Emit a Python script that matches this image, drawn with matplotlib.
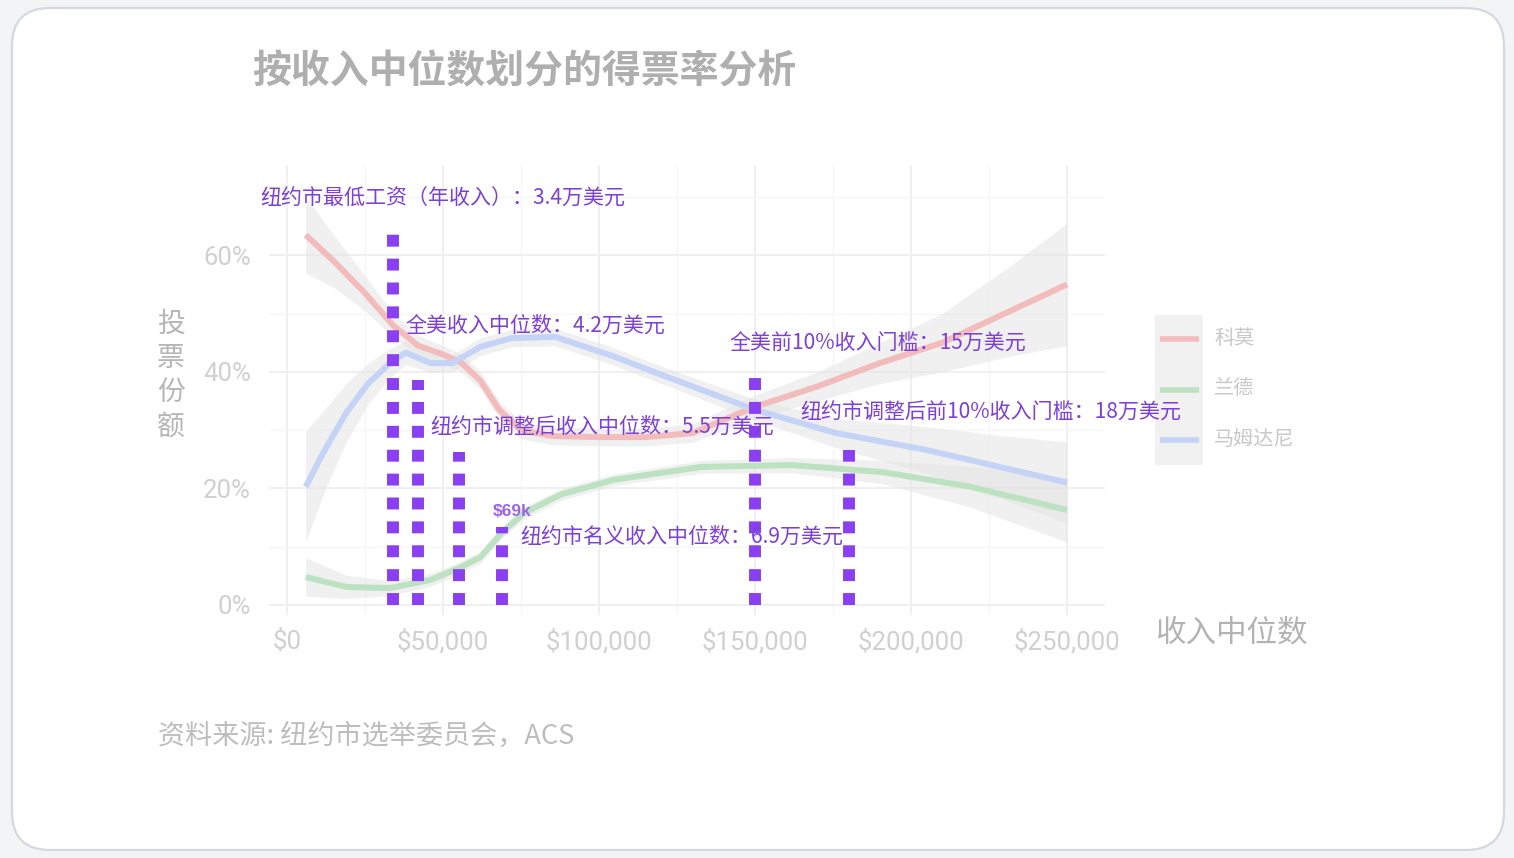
import numpy as np
import matplotlib
matplotlib.use('Agg')
import matplotlib.pyplot as plt
from matplotlib.patches import FancyBboxPatch, Rectangle
from matplotlib.lines import Line2D
from matplotlib.ticker import FuncFormatter, MultipleLocator

plt.rcParams['font.family'] = ['Noto Sans CJK SC', 'DejaVu Sans']

W, H = 1514, 858

# smoothed vote share by median income (income in $k, share in %)
cuomo_k = [6, 15, 25, 34, 42, 50, 56, 62, 68, 75, 85, 100, 115, 130, 150, 170, 190, 210, 230, 250]
cuomo = [63.5, 59, 53.5, 48, 44.5, 43, 41.5, 38.5, 33.5, 30, 29, 28.8, 28.8, 29.5, 34, 37.5, 41.5, 45, 50, 55]
cuomo_se = [6.5, 4.5, 3, 2, 1.8, 1.5, 1.5, 1.5, 1.5, 1.5, 1.5, 1.5, 1.5, 1.6, 2, 2.5, 3.5, 5, 7.5, 10.5]

mamdani_k = [6, 12, 19, 26, 33, 38, 46, 53, 62, 72, 86, 105, 120, 133, 150, 176, 205, 230, 250]
mamdani = [20.3, 26.5, 33, 38, 41.5, 43.3, 41.5, 41.5, 44.3, 45.8, 46, 42.6, 39.5, 36.9, 33.5, 29.5, 26.6, 23.5, 21]
mamdani_se = [9.5, 7, 5, 3.5, 2.5, 2, 1.6, 1.5, 1.5, 1.5, 1.5, 1.5, 1.5, 1.6, 1.8, 2.5, 4, 5.5, 7]

lander_k = [6, 19, 33, 46, 55, 62, 69, 76, 88, 105, 133, 162, 191, 219, 250]
lander = [4.8, 3.1, 2.9, 4.3, 6.3, 8.2, 12.5, 15.8, 19, 21.5, 23.7, 24, 22.8, 20.3, 16.3]
lander_se = [3.3, 2, 1.3, 1.1, 1, 1, 1, 1, 1, 1, 1.1, 1.3, 2, 3.5, 5.5]

series_names = ['科莫', '兰德', '马姆达尼']

# reference income lines ($k) and how tall the dotted marks go (%)
ref_k = [34, 42, 55, 69, 150, 180]
ref_top = [64.5, 38.6, 26.3, 13.4, 39, 26.6]

# annotations: text, x ($k), y (%)
notes = [
    ('纽约市最低工资（年收入）：3.4万美元', 50, 69.7),
    ('全美收入中位数：4.2万美元', 37.8, 47.9),
    ('纽约市调整后收入中位数：5.5万美元', 46, 30.6),
    ('纽约市名义收入中位数：6.9万美元', 74.7, 11.7),
    ('全美前10%收入门槛：15万美元', 141.7, 44.8),
    ('纽约市调整后前10%收入门槛：18万美元', 164.4, 33.0),
]

x_ticks = [0, 50000, 100000, 150000, 200000, 250000]
y_ticks = [0, 20, 40, 60]

RED, GREEN, BLUE = '#f3bcbc', '#bde2c2', '#c5d3f7'
PURPLE = '#8a3ff2'
TXT_PURPLE = '#7c3fd8'


def fx(px):
    return px / W


def fy(py):
    return 1 - py / H


fig = plt.figure(figsize=(W / 100, H / 100), dpi=100, facecolor='#f3f4f5')

# card behind everything
card = FancyBboxPatch((12, 8), 1492, 842, boxstyle='round,pad=0,rounding_size=38',
                      transform=None, facecolor='white', edgecolor='#d3d9de', linewidth=1.6,
                      zorder=-10)
fig.add_artist(card)

# legend (under the axes so annotation text can run over it)
fig.add_artist(Rectangle((fx(1155), fy(465)), fx(1203) - fx(1155), fy(315) - fy(465),
                         transform=fig.transFigure, facecolor='#f1f1f1', edgecolor='none',
                         zorder=-5))
for name, col, py in zip(series_names, [RED, GREEN, BLUE], [339, 390, 440]):
    fig.add_artist(Line2D([fx(1160), fx(1199)], [fy(py), fy(py)], transform=fig.transFigure,
                          color=col, linewidth=4, solid_capstyle='butt', zorder=-4))
    fig.text(fx(1214), fy(py - 1), name, ha='left', va='center', fontsize=14.5, color='#c8c8c8')

ax = fig.add_axes([fx(269), fy(615), fx(1105) - fx(269), fy(165) - fy(615)])
ax.set_facecolor('none')
ax.set_xlim(-5770, 262200)
ax.set_ylim(-1.72, 75.5)

ax.xaxis.set_major_locator(MultipleLocator(50000))
ax.xaxis.set_minor_locator(MultipleLocator(25000))
ax.yaxis.set_major_locator(MultipleLocator(20))
ax.yaxis.set_minor_locator(MultipleLocator(10))
ax.grid(which='major', color='#efefef', linewidth=1.3)
ax.grid(which='minor', color='#f6f6f6', linewidth=1.0)
ax.set_axisbelow(True)
for s in ax.spines.values():
    s.set_visible(False)
ax.tick_params(which='both', length=0)
ax.tick_params(axis='x', pad=10, labelsize=18.5, labelcolor='#d0d0d0')
ax.tick_params(axis='y', pad=13, labelsize=18.5, labelcolor='#d0d0d0')
ax.set_xticks(x_ticks)
ax.set_yticks(y_ticks)
ax.xaxis.set_major_formatter(FuncFormatter(lambda v, p: '${:,.0f}'.format(v)))
ax.yaxis.set_major_formatter(FuncFormatter(lambda v, p: '{:.0f}%'.format(v)))
for lab in ax.get_xticklabels() + ax.get_yticklabels():
    lab.set_family(['Roboto', 'DejaVu Sans'])

# confidence bands and smooth lines
for xs, ys, se in [(cuomo_k, cuomo, cuomo_se),
                   (lander_k, lander, lander_se),
                   (mamdani_k, mamdani, mamdani_se)]:
    xs = np.array(xs) * 1000
    ys = np.array(ys)
    se = np.array(se)
    ax.fill_between(xs, ys - se, ys + se, color='#e4e4e4', alpha=0.55, linewidth=0, zorder=1)
for xs, ys, col in [(cuomo_k, cuomo, RED), (lander_k, lander, GREEN), (mamdani_k, mamdani, BLUE)]:
    ax.plot(np.array(xs) * 1000, ys, color=col, linewidth=4.3, solid_capstyle='butt',
            solid_joinstyle='round', zorder=2)

# dotted reference lines
for k, top in zip(ref_k, ref_top):
    ax.plot([k * 1000, k * 1000], [0, top], color=PURPLE, linewidth=8.6,
            linestyle=(0, (1, 1)), dash_capstyle='butt', zorder=3)

for i, (t, x, y) in enumerate(notes):
    ax.text(x * 1000, y, t, ha='center' if i == 0 else 'left', va='center',
            fontsize=15.1, color=TXT_PURPLE, zorder=5, clip_on=False)
ax.text(66000, 16.1, '$69k', ha='left', va='center', fontsize=12.5, fontweight='bold',
        color='#9d63ea', family=['Liberation Sans', 'DejaVu Sans'], zorder=5)

# titles and labels
fig.text(fx(252), fy(72), '按收入中位数划分的得票率分析', ha='left', va='center',
         fontsize=28, fontweight='bold', color='#afafaf')
fig.text(fx(1231), fy(633), '收入中位数', ha='center', va='center', fontsize=22, color='#b3b3b3')
fig.text(fx(171), fy(375), '投\n票\n份\n额', ha='center', va='center', fontsize=20,
         color='#b6b6b6', linespacing=1.18)
fig.text(fx(158), fy(736), '资料来源: 纽约市选举委员会，ACS', ha='left', va='center',
         fontsize=19.5, color='#bdbdbd')

fig.savefig('out.png', dpi=100, facecolor=fig.get_facecolor())
